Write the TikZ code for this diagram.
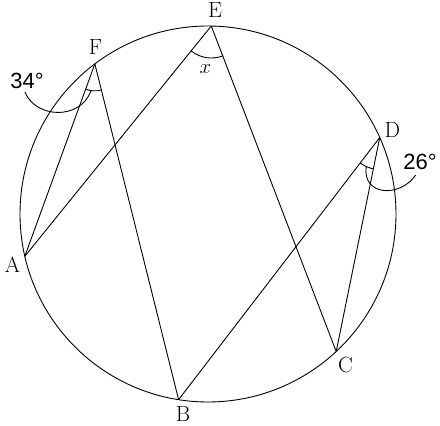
\documentclass[tikz,border=0pt]{standalone}
\usepackage{fontspec}
\newfontfamily\degfont{Liberation Sans}
\usetikzlibrary{angles}
\begin{document}
\begin{tikzpicture}[x=1pt,y=1pt,line width=0.9pt,
  lbl/.style={font=\fontsize{22}{24}\selectfont, inner sep=0pt},
  deg/.style={font=\degfont\fontsize{22}{24}\selectfont, inner sep=0pt},
  ang/.style={draw, line width=0.9pt, angle radius=#1}]
\useasboundingbox (0,0) rectangle (440,426);
\coordinate (O) at (208,212);
\draw (O) circle (188);
\coordinate (E) at ([shift={(89:188)}]O);
\coordinate (F) at ([shift={(127:188)}]O);
\coordinate (A) at ([shift={(193:188)}]O);
\coordinate (B) at ([shift={(261:188)}]O);
\coordinate (C) at ([shift={(313:188)}]O);
\coordinate (D) at ([shift={(24:188)}]O);
\draw (F) -- (A);
\draw (F) -- (B);
\draw (E) -- (A);
\draw (E) -- (C);
\draw (D) -- (B);
\draw (D) -- (C);
\pic[ang=27] {angle=A--F--B};
\pic[ang=32] {angle=A--E--C};
\pic[ang=32] {angle=B--D--C};
\coordinate (l1s) at (25,334);
\coordinate (l1e) at ([shift={(262:27)}]F);
\draw (l1s) .. controls (35,308) and (80,305) .. (l1e);
\coordinate (l2s) at (415.7,251);
\coordinate (l2e) at ([shift={(245:32)}]D);
\draw (l2s) .. controls (400,228) and (362,230) .. (l2e);
\node[lbl] (tE) at (215,416) {E};
\node[lbl] (tF) at (95.5,378.5) {F};
\node[lbl] (tA) at (12.5,161.5) {A};
\node[lbl] (tB) at (183,12) {B};
\node[lbl] (tC) at (345.5,61.5) {C};
\node[lbl] (tD) at (392.5,296) {D};
\node[lbl] (tx) at (205.5,357) {$x$};
\node[deg] (t34) at (27,345.5) {34°};
\node[deg] (t26) at (420,264.5) {26°};
\end{tikzpicture}
\end{document}
